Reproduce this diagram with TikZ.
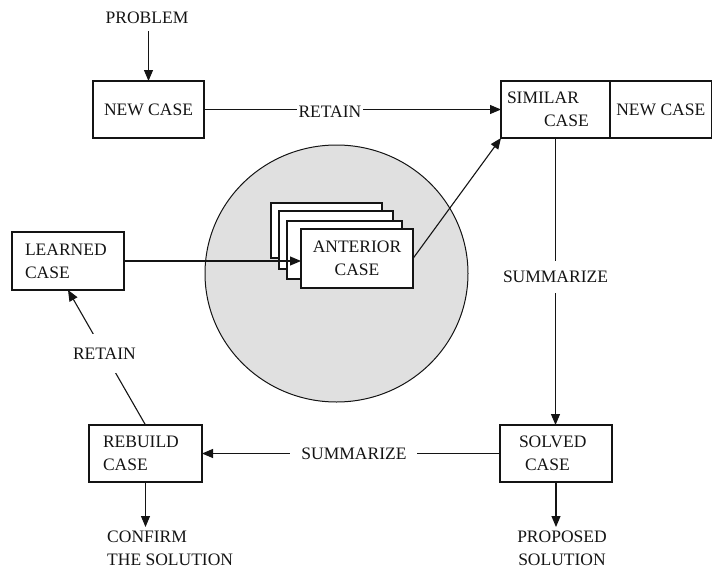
\documentclass[tikz,border=0pt]{standalone}
\usepackage{fontspec}
\setmainfont{Liberation Serif}
\usetikzlibrary{arrows.meta,shapes.geometric}
\definecolor{poolgray}{HTML}{E0E0E0}
\definecolor{ink}{HTML}{141414}
\tikzset{
  every node/.style={font={\fontsize{17.5}{23}\selectfont}, text=ink},
  box/.style={draw=ink, line width=1.3pt, fill=white, inner ysep=0pt, outer sep=0pt, minimum height=57pt},
  card/.style={draw=ink, line width=1.3pt, fill=white, inner sep=0pt, outer sep=0pt},
  arr/.style={draw=ink, line width=1.1pt, -{Triangle[length=11pt,width=9pt]}},
  lbl/.style={inner sep=0pt},
  gap/.style={fill=white, inner xsep=2pt, inner ysep=2pt},
}
\begin{document}
\begin{tikzpicture}[x=1pt,y=-1pt]
\useasboundingbox (0,0) rectangle (712,570);

% pool of cases
\node[ellipse, draw=ink, line width=1pt, fill=poolgray, minimum width=263pt, minimum height=257pt, inner sep=0pt] (pool) at (336.5,273.5) {};

% stacked cards
\node[card, minimum width=111pt, minimum height=55pt] (card1) at (326.5,230.5) {};
\node[card, minimum width=114pt, minimum height=58pt] (card2) at (336,240) {};
\node[card, minimum width=115pt, minimum height=58pt] (card3) at (344.5,250) {};
\node[card, minimum width=112pt, minimum height=59pt, align=center] (front) at (357,258.5) {ANTERIOR\\CASE};

% boxes
\node[box, minimum width=111pt, inner xsep=0pt] (newcase) at (148.5,109.5) {NEW CASE};
\node[box, inner xsep=6pt, text width=97pt, align=left] (similar) at (555.5,109.5) {SIMILAR\\\hspace*{37pt}CASE};
\node[box, minimum width=101.5pt, inner xsep=0pt] (newcase2) at (660.75,109.5) {NEW CASE};
\node[box, inner xsep=13pt, text width=86pt, align=left, minimum height=58pt] (learned) at (68,261) {LEARNED\\CASE};
\node[box, inner xsep=14pt, text width=85pt, align=left] (rebuild) at (145.5,453.5) {REBUILD\\CASE};
\node[box, inner xsep=19pt, text width=74pt, align=left] (solved) at (556,453.5) {SOLVED\\\hspace*{6pt}CASE};

% free texts
\node[lbl] (problem) at (147,18) {PROBLEM};
\node[lbl, inner ysep=4pt, align=left, anchor=north west] (confirm) at (107,527) {CONFIRM\\THE SOLUTION};
\node[lbl, inner ysep=4pt, align=center, anchor=north] (proposed) at (562,527) {PROPOSED\\SOLUTION};

% connectors
\draw[arr, shorten <=7pt] (newcase.north |- problem.south) -- (newcase.north);
\draw[arr] (newcase.east) -- node[pos=0.424, gap, yshift=-2pt] {RETAIN} (similar.west);
\draw[arr] (similar.south) -- node[pos=0.484, gap, inner ysep=10pt] {SUMMARIZE} (similar.south |- solved.north);
\draw[arr] (solved.west) -- node[pos=0.49, gap, inner xsep=11pt] {SUMMARIZE} (rebuild.east);
\draw[arr] (rebuild.north) -- node[pos=0.53, gap, inner ysep=14pt] {RETAIN} (learned.south);
\draw[arr] (learned.east) -- (learned.east -| front.west);
\draw[arr] (front.east) -- (similar.south west);
\draw[arr] (rebuild.south) -- (rebuild.south |- confirm.north);
\draw[arr] (solved.south) -- (solved.south |- proposed.north);
\end{tikzpicture}
\end{document}
